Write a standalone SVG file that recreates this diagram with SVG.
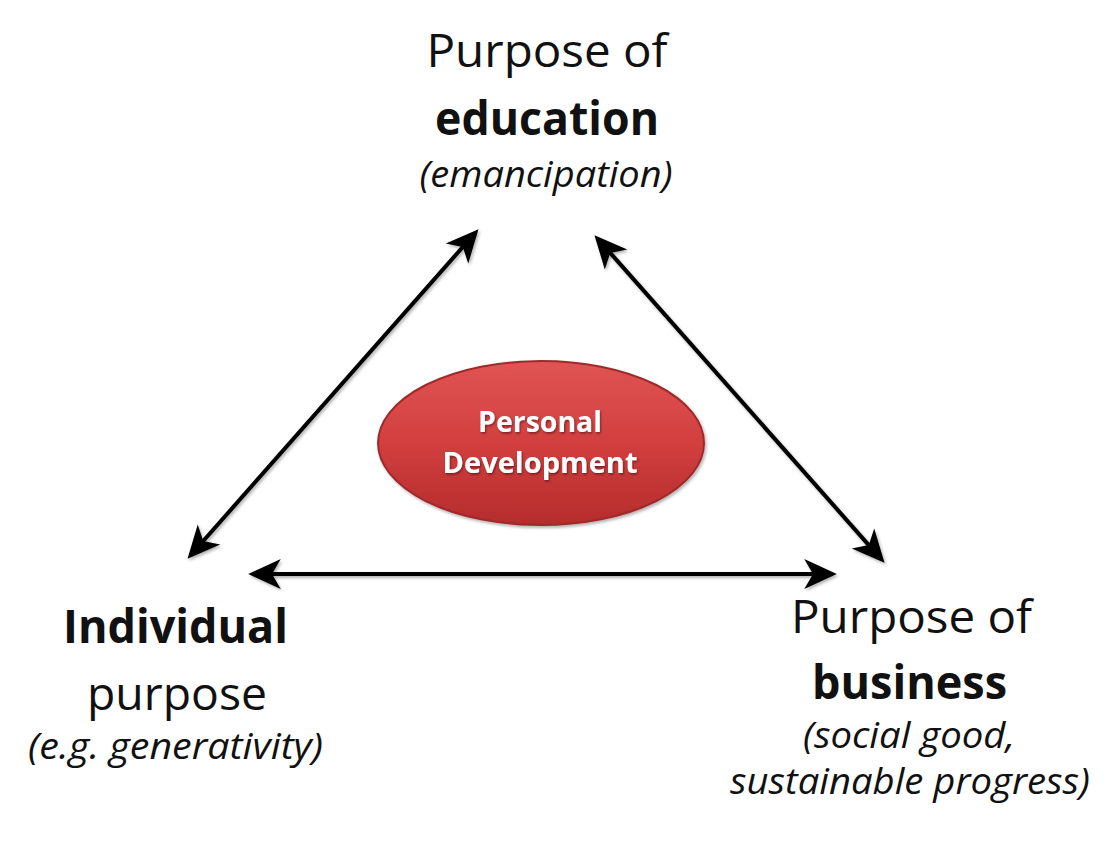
<svg xmlns="http://www.w3.org/2000/svg" width="1120" height="841" viewBox="0 0 1120 841">
  <style>
    .reg { font-family: "Open Sans", "Noto Sans", sans-serif; font-size: 46px; fill: #111; text-anchor: middle; }
    .bold { font-family: "Open Sans", "Noto Sans", sans-serif; font-size: 46px; font-weight: bold; fill: #111; text-anchor: middle; }
    .ital { font-family: "Open Sans", "Noto Sans", sans-serif; font-size: 36px; font-style: italic; fill: #111; text-anchor: middle; }
    .inner { font-family: "Open Sans", "Noto Sans", sans-serif; font-size: 28px; font-weight: bold; fill: #fff; text-anchor: middle; }
    .conn { stroke: #000; stroke-width: 4; fill: none; marker-start: url(#head); marker-end: url(#head); }
  </style>
  <defs>
    <marker id="head" markerUnits="userSpaceOnUse" markerWidth="40" markerHeight="40" viewBox="-15 -15 32 30" refX="0" refY="0" orient="auto-start-reverse" overflow="visible">
      <path d="M15,0 L-11,-12 L-4,0 L-11,12 Z" fill="#000"/>
    </marker>
    <filter id="shadow" filterUnits="userSpaceOnUse" x="0" y="0" width="1120" height="841">
      <feDropShadow dx="1.5" dy="2" stdDeviation="1.5" flood-color="#000" flood-opacity="0.3"/>
    </filter>
    <filter id="tshadow" filterUnits="userSpaceOnUse" x="0" y="0" width="1120" height="841">
      <feDropShadow dx="1" dy="1.5" stdDeviation="1" flood-color="#000" flood-opacity="0.45"/>
    </filter>
    <linearGradient id="red" x1="0" y1="0" x2="0" y2="1">
      <stop offset="0" stop-color="#e05454"/>
      <stop offset="0.5" stop-color="#d23f3f"/>
      <stop offset="1" stop-color="#b52c2c"/>
    </linearGradient>
  </defs>
  <rect width="1120" height="841" fill="#fff"/>

  <g id="connectors" filter="url(#shadow)">
    <line class="conn" x1="199.9" y1="544.8" x2="466.1" y2="243.2"/>
    <line class="conn" x1="606.9" y1="249.2" x2="872.1" y2="548.8"/>
    <line class="conn" x1="267" y1="574" x2="818" y2="574"/>
  </g>

  <g id="education">
    <text class="reg" x="547" y="67" textLength="241" lengthAdjust="spacingAndGlyphs">Purpose of</text>
    <text class="bold" x="547" y="135" textLength="224" lengthAdjust="spacingAndGlyphs">education</text>
    <text class="ital" x="546" y="187" textLength="253" lengthAdjust="spacingAndGlyphs">(emancipation)</text>
  </g>

  <g id="individual">
    <text class="bold" x="175.5" y="643" textLength="225" lengthAdjust="spacingAndGlyphs">Individual</text>
    <text class="reg" x="177" y="710" textLength="180" lengthAdjust="spacingAndGlyphs">purpose</text>
    <text class="ital" x="175.5" y="759" textLength="295" lengthAdjust="spacingAndGlyphs">(e.g. generativity)</text>
  </g>

  <g id="business">
    <text class="reg" x="911.5" y="633" textLength="241" lengthAdjust="spacingAndGlyphs">Purpose of</text>
    <text class="bold" x="909.5" y="699" textLength="195" lengthAdjust="spacingAndGlyphs">business</text>
    <text class="ital" x="909" y="748" textLength="212" lengthAdjust="spacingAndGlyphs">(social good,</text>
    <text class="ital" x="910" y="794" textLength="360" lengthAdjust="spacingAndGlyphs">sustainable progress)</text>
  </g>

  <g id="personal-development">
    <ellipse cx="541" cy="443" rx="163" ry="82" fill="url(#red)" stroke="#a02a2a" stroke-width="2" filter="url(#shadow)"/>
    <g filter="url(#tshadow)">
      <text class="inner" x="540" y="432" textLength="124" lengthAdjust="spacingAndGlyphs">Personal</text>
      <text class="inner" x="540" y="473" textLength="195" lengthAdjust="spacingAndGlyphs">Development</text>
    </g>
  </g>
</svg>
